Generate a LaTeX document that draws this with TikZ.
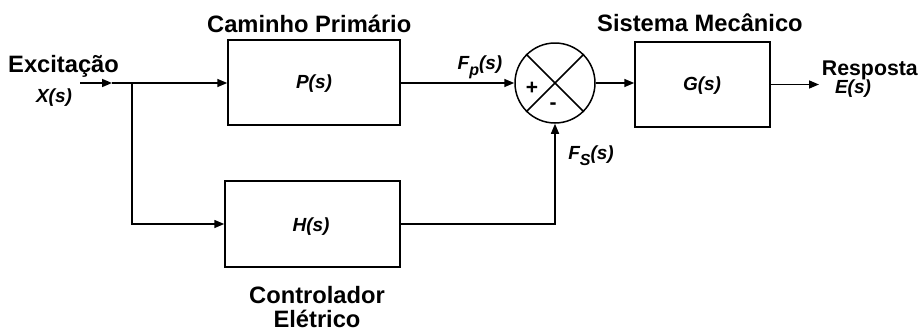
\documentclass[tikz,border=0pt]{standalone}
\usepackage{fontspec}
\setmainfont{Liberation Sans}
\usetikzlibrary{arrows.meta}
\begin{document}
\begin{tikzpicture}[x=1pt,y=-1pt,
  wire/.style={line width=1.5pt},
  arr/.style={wire,-{Triangle[length=10pt,width=8pt]}},
  blk/.style={draw,line width=1.5pt,inner sep=0pt},
  ttl/.style={font=\fontsize{23.7}{27}\selectfont\bfseries,inner sep=0pt},
  lbl/.style={font=\fontsize{19}{22}\selectfont\bfseries\itshape,inner sep=0pt},
  sgn/.style={font=\fontsize{21}{24}\selectfont\bfseries,inner sep=0pt}]
\useasboundingbox (0,0) rectangle (921,333);
% blocks
\node[blk,minimum width=172pt,minimum height=85pt] (P) at (314,82.5) {};
\node[lbl] (Pl) at (314,84) {P(s)};
\node[blk,minimum width=175pt,minimum height=86pt] (H) at (312.5,224) {};
\node[lbl] (Hl) at (311,227) {H(s)};
\node[blk,minimum width=135pt,minimum height=85pt] (G) at (702.5,84.5) {};
\node[lbl] (Gl) at (702,86) {G(s)};
% summing junction
\node[draw,circle,line width=1.5pt,minimum size=80pt,inner sep=0pt] (S) at (555,83) {};
\draw[wire] (S.north west) -- (S.south east);
\draw[wire] (S.north east) -- (S.south west);
\node[sgn] (plus) at (532,88) {+};
\node[sgn] (minus) at (553,106) {-};
% titles
\node[ttl,anchor=base west] (exc) at (8,72) {Excitação};
\node[ttl,anchor=base west] (cam) at (207,32) {Caminho Primário};
\node[ttl,anchor=base west] (sis) at (597,31) {Sistema Mecânico};
\node[ttl,anchor=base east,font=\fontsize{21.3}{25}\selectfont\bfseries] (res) at (918,75) {Resposta};
\node[ttl,anchor=base] (con) at (317,303) {Controlador};
\node[ttl,anchor=base] (ele) at (317,327) {Elétrico};
% signal labels
\node[lbl] (X) at (54,98) {X(s)};
\node[lbl] (E) at (853,89) {E(s)};
\node[lbl] (Fp) at (480,67) {F\raisebox{-0.3em}{\fontsize{16}{16}\selectfont p}(s)};
\node[lbl] (Fs) at (591,156) {F\raisebox{-0.3em}{\fontsize{16}{16}\selectfont S}(s)};
% connectors
\coordinate (in) at (80,83);
\coordinate (mid) at (112,83);
\coordinate (br) at (132,83);
\coordinate (out) at (819,84.5);
\draw[arr] (in) -- (mid);
\draw[wire] (mid) -- (br);
\draw[arr] (br) -- (br -| P.west);
\draw[arr] (br) |- (H.west);
\draw[arr] (P.east |- S.west) -- (S.west);
\draw[arr] (S.east) -- (S.east -| G.west);
\draw[arr] (G.east) -- (out);
\draw[arr] (H.east) -| (S.south);
\end{tikzpicture}
\end{document}
